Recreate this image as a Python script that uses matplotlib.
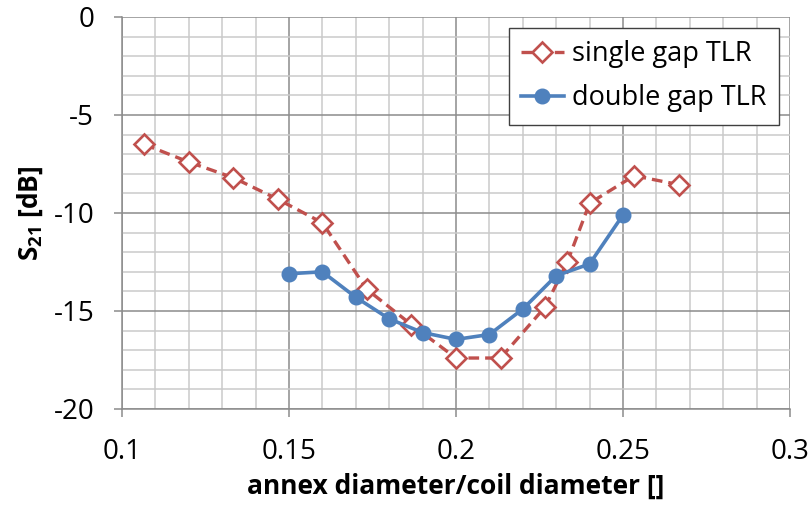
import matplotlib
matplotlib.use("Agg")
import matplotlib.pyplot as plt
from matplotlib.ticker import MultipleLocator, FuncFormatter

# annex diameters over a 75 mm coil
single_x = [8/75, 9/75, 10/75, 11/75, 12/75, 13/75, 14/75, 15/75, 16/75,
            17/75, 17.5/75, 18/75, 19/75, 20/75]
single_s21 = [-6.5, -7.4, -8.2, -9.3, -10.5, -13.9, -15.7, -17.4, -17.4,
              -14.8, -12.5, -9.5, -8.1, -8.55]

double_x = [0.15, 0.16, 0.17, 0.18, 0.19, 0.20, 0.21, 0.22, 0.23, 0.24, 0.25]
double_s21 = [-13.1, -13.0, -14.3, -15.4, -16.1, -16.45, -16.2, -14.9,
              -13.2, -12.6, -10.1]

red = '#C0504D'
blue = '#4F81BD'

plt.rcParams['font.family'] = ['Open Sans', 'DejaVu Sans']
plt.rcParams['mathtext.fontset'] = 'custom'
plt.rcParams['mathtext.bf'] = 'Open Sans:bold'
plt.rcParams['mathtext.rm'] = 'Open Sans'

fig = plt.figure(figsize=(8.09, 5.12), dpi=100)
ax = fig.add_axes([0.1508, 0.2012, 0.8257, 0.7656])

ax.plot(single_x, single_s21, color=red, lw=2.4, ls=(0, (3.2, 1.8)),
        marker='D', ms=10.5, mfc='white', mec=red, mew=1.9,
        label='single gap TLR', zorder=3)
ax.plot(double_x, double_s21, color=blue, lw=2.6,
        marker='o', ms=10.5, mfc=blue, mec=blue,
        label='double gap TLR', zorder=4)

ax.set_xlim(0.1, 0.3)
ax.set_ylim(-20, 0)
ax.xaxis.set_major_locator(MultipleLocator(0.05))
ax.xaxis.set_minor_locator(MultipleLocator(0.01))
ax.yaxis.set_major_locator(MultipleLocator(5))
ax.yaxis.set_minor_locator(MultipleLocator(1))
ax.xaxis.set_major_formatter(FuncFormatter(lambda v, p: f'{v:g}'))
ax.yaxis.set_major_formatter(FuncFormatter(lambda v, p: f'{v:g}'))

ax.grid(which='major', color='#8c8c8c', lw=1.1)
ax.grid(which='minor', color='#cacaca', lw=1.1)
ax.set_axisbelow(True)

for side in ['top', 'right']:
    ax.spines[side].set_visible(False)
for side in ['left', 'bottom']:
    ax.spines[side].set_color('#8c8c8c')
    ax.spines[side].set_linewidth(1.1)

ax.tick_params(which='major', length=6, width=1.1, color='#8c8c8c',
               labelsize=20)
ax.tick_params(axis='x', which='major', pad=15)
ax.tick_params(axis='y', which='major', pad=14)
ax.tick_params(which='minor', length=0)

ax.set_xlabel('annex diameter/coil diameter []', fontsize=19,
              fontweight='bold', labelpad=5)
ax.set_ylabel(r'$\mathbf{S_{21}}$ [dB]', fontsize=19, fontweight='bold',
              labelpad=6)

leg = ax.legend(loc='upper right', bbox_to_anchor=(0.9835, 0.972),
                fontsize=19.5, frameon=True, fancybox=False, framealpha=1,
                edgecolor='#404040', handlelength=1.6, borderpad=0.45,
                labelspacing=0.6, handletextpad=0.3, borderaxespad=0)
leg.get_frame().set_linewidth(1.0)

fig.savefig('out.png', dpi=100)
